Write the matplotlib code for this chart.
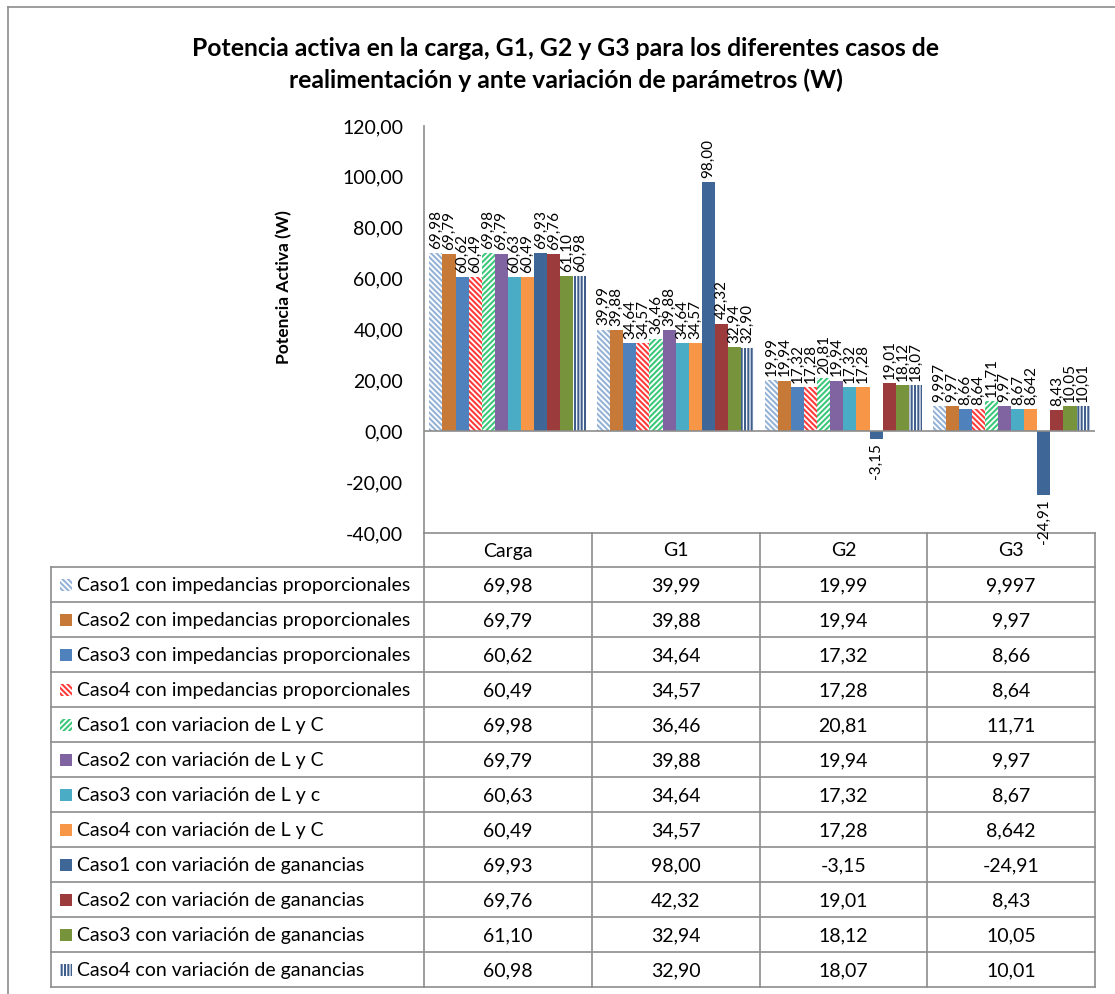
import matplotlib.pyplot as plt
from matplotlib.patches import Rectangle

plt.rcParams['font.family'] = ['Lato', 'DejaVu Sans']
plt.rcParams['hatch.linewidth'] = 1.5

# Data: active power (W) for load and generators
categories = ["Carga", "G1", "G2", "G3"]
series_names = [
    "Caso1 con impedancias proporcionales",
    "Caso2 con impedancias proporcionales",
    "Caso3 con impedancias proporcionales",
    "Caso4 con impedancias proporcionales",
    "Caso1 con variacion de L y C",
    "Caso2 con variación de L y C",
    "Caso3 con variación de L y c",
    "Caso4 con variación de L y C",
    "Caso1 con variación de ganancias",
    "Caso2 con variación de ganancias",
    "Caso3 con variación de ganancias",
    "Caso4 con variación de ganancias",
]
values = [
    [69.98, 39.99, 19.99, 9.997],
    [69.79, 39.88, 19.94, 9.97],
    [60.62, 34.64, 17.32, 8.66],
    [60.49, 34.57, 17.28, 8.64],
    [69.98, 36.46, 20.81, 11.71],
    [69.79, 39.88, 19.94, 9.97],
    [60.63, 34.64, 17.32, 8.67],
    [60.49, 34.57, 17.28, 8.642],
    [69.93, 98.00, -3.15, -24.91],
    [69.76, 42.32, 19.01, 8.43],
    [61.10, 32.94, 18.12, 10.05],
    [60.98, 32.90, 18.07, 10.01],
]
y_ticks = [-40, -20, 0, 20, 40, 60, 80, 100, 120]

# fill colour, hatch colour, hatch pattern for each series
styles = [
    ("white", "#95B3D7", "\\" * 6),
    ("#C77A38", None, None),
    ("#4F81BD", None, None),
    ("white", "#FF3B3B", "\\" * 6),
    ("white", "#3CC87A", "/" * 6),
    ("#8064A2", None, None),
    ("#4BACC6", None, None),
    ("#F79646", None, None),
    ("#3E6797", None, None),
    ("#9B3B3B", None, None),
    ("#77933C", None, None),
    ("white", "#3F5E8C", "|" * 5),
]

GRAY = "#8C8C8C"


def fmt(v):
    # comma decimals, keep three places where the value has them
    if round(v, 2) == v:
        s = f"{v:.2f}"
    else:
        s = f"{v:.3f}"
    return s.replace(".", ",")


W, H = 1115, 994
fig = plt.figure(figsize=(W / 100, H / 100), dpi=100)

# pixel-space overlay for frame and table
ov = fig.add_axes([0, 0, 1, 1])
ov.set_xlim(0, W)
ov.set_ylim(H, 0)
ov.axis("off")

ov.plot([8, 8], [7, H], color=GRAY, lw=1.2)
ov.plot([8, W], [7, 7], color=GRAY, lw=1.2)

# Title
ov.text(566, 48, "Potencia activa en la carga, G1, G2 y G3 para los diferentes casos de",
        ha="center", va="center", fontsize=17.8, fontweight="bold")
ov.text(566, 80, "realimentación y ante variación de parámetros (W)",
        ha="center", va="center", fontsize=17.8, fontweight="bold")

# Bar chart
x0, x1 = 424, 1095
y_top, y_bot = 126, 533
ax = fig.add_axes([x0 / W, 1 - y_bot / H, (x1 - x0) / W, (y_bot - y_top) / H])
ax.patch.set_alpha(0)

n = len(series_names)
bw = 1 / 12.82
for i, name in enumerate(series_names):
    face, hcol, hatch = styles[i]
    offs = [c + (i - (n - 1) / 2) * bw for c in range(len(categories))]
    if hatch:
        ax.bar(offs, values[i], width=bw, color=face, edgecolor=hcol, hatch=hatch, linewidth=0)
    else:
        ax.bar(offs, values[i], width=bw, color=face, linewidth=0)
    for xo, v in zip(offs, values[i]):
        if v >= 0:
            ax.annotate(fmt(v), (xo, v), xytext=(0, 3), textcoords="offset points",
                        rotation=90, ha="center", va="bottom", fontsize=11)
        else:
            ax.annotate(fmt(v), (xo, v), xytext=(0, -3), textcoords="offset points",
                        rotation=90, ha="center", va="top", fontsize=11)

ax.set_xlim(-0.5, len(categories) - 0.5)
ax.set_ylim(-40, 120)
ax.set_yticks(y_ticks)
ax.set_yticklabels([fmt(t) for t in y_ticks], fontsize=14)
ax.tick_params(axis="y", length=0, pad=15)
ax.set_xticks([])
ax.axhline(0, color=GRAY, lw=1.2)
for s in ["top", "right", "bottom"]:
    ax.spines[s].set_visible(False)
ax.spines["left"].set_color(GRAY)
ax.spines["left"].set_linewidth(1.2)
ax.set_ylabel("Potencia Activa (W)", fontsize=12.5, fontweight="bold")
ax.yaxis.set_label_coords((292 - x0) / (x1 - x0), (y_bot - 287) / (y_bot - y_top))

# Data table below the plot
col_edges = [x0 + k * (x1 - x0) / len(categories) for k in range(len(categories) + 1)]
tbl_left = 51
head_top, head_bot = 533, 567
row_h = 35
tbl_bot = head_bot + row_h * n

ov.plot([x0, x1], [head_top, head_top], color=GRAY, lw=1.2)
for xe in col_edges:
    ov.plot([xe, xe], [head_top, tbl_bot], color=GRAY, lw=1.2)
ov.plot([tbl_left, tbl_left], [head_bot, tbl_bot], color=GRAY, lw=1.2)
for r in range(n + 1):
    y = head_bot + r * row_h
    ov.plot([tbl_left, x1], [y, y], color=GRAY, lw=1.2)

for k, cat in enumerate(categories):
    ov.text((col_edges[k] + col_edges[k + 1]) / 2, (head_top + head_bot) / 2 + 1, cat,
            ha="center", va="center", fontsize=14)

for i, name in enumerate(series_names):
    yc = head_bot + (i + 0.5) * row_h
    face, hcol, hatch = styles[i]
    if hatch:
        ov.add_patch(Rectangle((60, yc - 6), 12, 12, facecolor=face, edgecolor=hcol,
                               hatch=hatch, linewidth=0))
    else:
        ov.add_patch(Rectangle((60, yc - 6), 12, 12, facecolor=face, linewidth=0))
    ov.text(77, yc + 1, name, ha="left", va="center", fontsize=14)
    for k in range(len(categories)):
        ov.text((col_edges[k] + col_edges[k + 1]) / 2, yc + 1, fmt(values[i][k]),
                ha="center", va="center", fontsize=14)

fig.savefig("out.png", dpi=100)
plt.close()
